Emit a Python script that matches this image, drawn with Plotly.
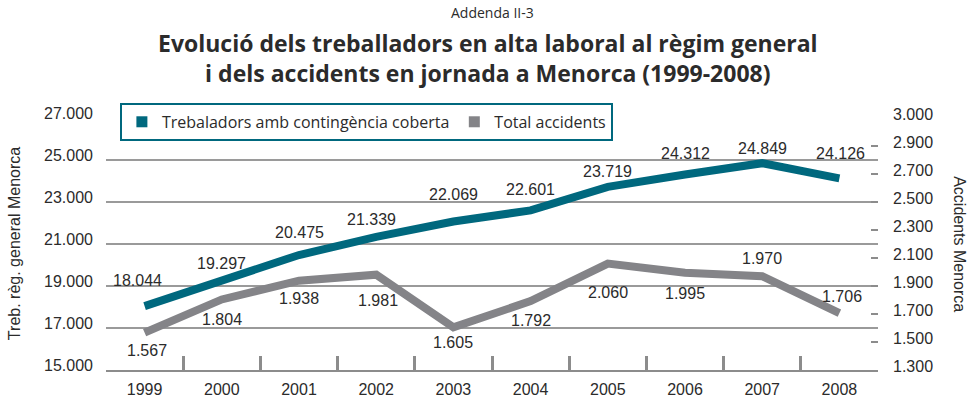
import plotly.graph_objects as go

years = ["1999", "2000", "2001", "2002", "2003", "2004", "2005", "2006", "2007", "2008"]
workers = [18044, 19297, 20475, 21339, 22069, 22601, 23719, 24312, 24849, 24126]
accidents = [1567, 1804, 1938, 1981, 1605, 1792, 2060, 1995, 1970, 1706]

left_ticks = [15000, 17000, 19000, 21000, 23000, 25000, 27000]
left_ticktext = ["15.000", "17.000", "19.000", "21.000", "23.000", "25.000", "27.000"]
right_ticks = [1300, 1500, 1700, 1900, 2100, 2300, 2500, 2700, 2900, 3100]
right_ticktext = ["1.300", "1.500", "1.700", "1.900", "2.100", "2.300", "2.500", "2.700", "2.900", "3.000"]

# label placement (pixels) - styling only
w_yshift = [26, 16, 23, 17, 27, 21, 15, 21, 15, 25]
w_xshift = [-7, 0, 0, -5, 0, 0, 0, 0, 0, 1]
a_yshift = [-18, -20, -18, -26, -15, -19, -29, -21, 18, 17]
a_xshift = [2, 0, 0, 2, 0, 0, 0, 0, 0, 3]

TEAL = "#00687e"
GREY = "#848488"
TXT = "#2b2b2b"
GRID = "#9a9a9a"
NUMFONT = "Liberation Sans, Arial, sans-serif"
TFONT = "Open Sans, Lato, sans-serif"


def fmt(v):
    return f"{v:,}".replace(",", ".")


fig = go.Figure()
fig.add_trace(go.Scatter(x=years, y=workers, mode="lines", yaxis="y",
                         line=dict(color=TEAL, width=8), showlegend=False))
fig.add_trace(go.Scatter(x=years, y=accidents, mode="lines", yaxis="y2",
                         line=dict(color=GREY, width=8), showlegend=False))
# legend entries
fig.add_trace(go.Scatter(x=[None], y=[None], mode="markers", name="Trebaladors amb contingència coberta",
                         marker=dict(symbol="square", size=11, color=TEAL)))
fig.add_trace(go.Scatter(x=[None], y=[None], mode="markers", name="Total accidents", yaxis="y2",
                         marker=dict(symbol="square", size=11, color=GREY)))

ann = []
for i, y in enumerate(years):
    ann.append(dict(x=i, y=workers[i], yref="y", xref="x", text=fmt(workers[i]), showarrow=False,
                    yshift=w_yshift[i], xshift=w_xshift[i], font=dict(family=NUMFONT, size=16, color=TXT)))
    ann.append(dict(x=i, y=accidents[i], yref="y2", xref="x", text=fmt(accidents[i]), showarrow=False,
                    yshift=a_yshift[i], xshift=a_xshift[i], font=dict(family=NUMFONT, size=16, color=TXT)))

ann.append(dict(x=0.5, y=1.417, xref="paper", yref="paper", text="Addenda II-3", showarrow=False,
                xanchor="center", yanchor="middle", font=dict(family=TFONT, size=14, color=TXT)))
ann.append(dict(x=0.495, y=1.237, xref="paper", yref="paper",
                text="<b>Evolució dels treballadors en alta laboral al règim general<br>i dels accidents en jornada a Menorca (1999-2008)</b>",
                showarrow=False, xanchor="center", yanchor="middle",
                font=dict(family=TFONT, size=23, color=TXT)))
ann.append(dict(x=-0.119, y=0.5, xref="paper", yref="paper", text="Treb. règ. general Menorca",
                textangle=-90, showarrow=False, xanchor="center", yanchor="middle",
                font=dict(family=NUMFONT, size=16, color=TXT)))
ann.append(dict(x=1.106, y=0.5, xref="paper", yref="paper", text="Accidents Menorca",
                textangle=90, showarrow=False, xanchor="center", yanchor="middle",
                font=dict(family=NUMFONT, size=16, color=TXT)))

fig.update_layout(
    width=975, height=408,
    margin=dict(l=106, r=97, t=118, b=38, autoexpand=False),
    paper_bgcolor="white", plot_bgcolor="white",
    annotations=ann,
    legend=dict(orientation="h", x=0.018, y=1.06, xanchor="left", yanchor="top",
                bgcolor="white", bordercolor=TEAL, borderwidth=2,
                font=dict(family=TFONT, size=16, color=TXT), itemwidth=30,
                tracegroupgap=0),
    xaxis=dict(type="category", range=[-0.5, 9.5], showgrid=False, showline=True,
               linecolor="#8c8c8c", linewidth=2, ticks="inside", ticklen=14, tickwidth=3,
               tickcolor="#8c8c8c", tickson="boundaries", ticklabelstandoff=4,
               tickfont=dict(family=NUMFONT, size=16, color=TXT), zeroline=False),
    yaxis=dict(range=[15000, 27000], tickvals=left_ticks, ticktext=left_ticktext,
               showgrid=True, gridcolor=GRID, gridwidth=1.5, showline=False, zeroline=False,
               ticks="", ticklabelstandoff=12, ticklabelshift=-5,
               tickfont=dict(family=NUMFONT, size=16, color=TXT)),
    yaxis2=dict(range=[1300, 3100], overlaying="y", side="right", tickvals=right_ticks,
                ticktext=right_ticktext, showgrid=False, showline=False, zeroline=False,
                ticks="inside", ticklen=7, tickwidth=1.5, tickcolor="#8c8c8c",
                ticklabelstandoff=14, ticklabelshift=-4,
                tickfont=dict(family=NUMFONT, size=16, color=TXT)),
)

fig.write_html("out.html", config={"displayModeBar": False},
               post_script="document.body.style.margin='0';")
